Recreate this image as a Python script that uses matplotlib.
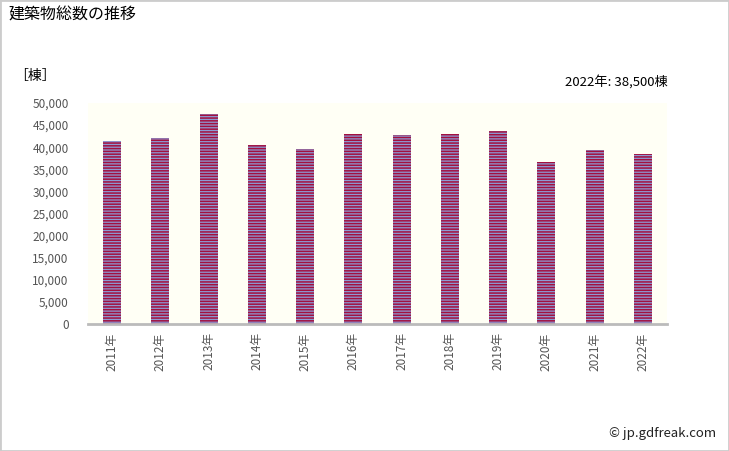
import matplotlib
matplotlib.use("Agg")
import matplotlib.pyplot as plt
from matplotlib.patches import Rectangle
from matplotlib.ticker import FuncFormatter

plt.rcParams['font.family'] = ['Noto Sans CJK JP', 'DejaVu Sans']
plt.rcParams['hatch.linewidth'] = 1.1

# データ
years = ["2011年", "2012年", "2013年", "2014年", "2015年", "2016年",
         "2017年", "2018年", "2019年", "2020年", "2021年", "2022年"]
counts = [41400, 42100, 47500, 40500, 39600, 43000,
          42700, 43000, 43600, 36600, 39400, 38500]

fig = plt.figure(figsize=(7.29, 4.51), dpi=100)
ax = fig.add_axes([88 / 729, 1 - 324 / 451, (667 - 88) / 729, (324 - 103) / 451])
ax.set_facecolor('#fffff5')

x = range(len(years))
ax.bar(x, counts, width=0.37, color='#8d9ad4', edgecolor='#a3103f',
       hatch='------', linewidth=0)

ax.set_xlim(-0.5, len(years) - 0.5)
ax.set_ylim(0, 50000)
ax.set_yticks(range(0, 50001, 5000))
ax.yaxis.set_major_formatter(FuncFormatter(lambda v, p: f"{int(v):,}"))
ax.set_xticks(list(x))
ax.set_xticklabels(years, rotation=90)
ax.tick_params(axis='both', length=0, labelsize=8.5, colors='#555555', pad=6)
ax.tick_params(axis='y', pad=14)

for s in ['top', 'right', 'left']:
    ax.spines[s].set_visible(False)
ax.spines['bottom'].set_color('#bbbbbb')
ax.spines['bottom'].set_linewidth(2)

fig.text(8 / 729, 1 - 15 / 451, "建築物総数の推移", fontsize=11.5, va='center', ha='left')
fig.text(14 / 729, 1 - 76 / 451, "［棟］", fontsize=10, va='center', ha='left')
fig.text(668 / 729, 1 - 82 / 451, "2022年: 38,500棟", fontsize=9.5, va='center', ha='right')
fig.text(716 / 729, 1 - 433 / 451, "© jp.gdfreak.com", fontsize=9.5, va='center', ha='right',
         color='#222222')

fig.patches.append(Rectangle((0, 0), 1, 1, transform=fig.transFigure, fill=False,
                             edgecolor='#cccccc', linewidth=2))

fig.savefig("out.png", dpi=100)
